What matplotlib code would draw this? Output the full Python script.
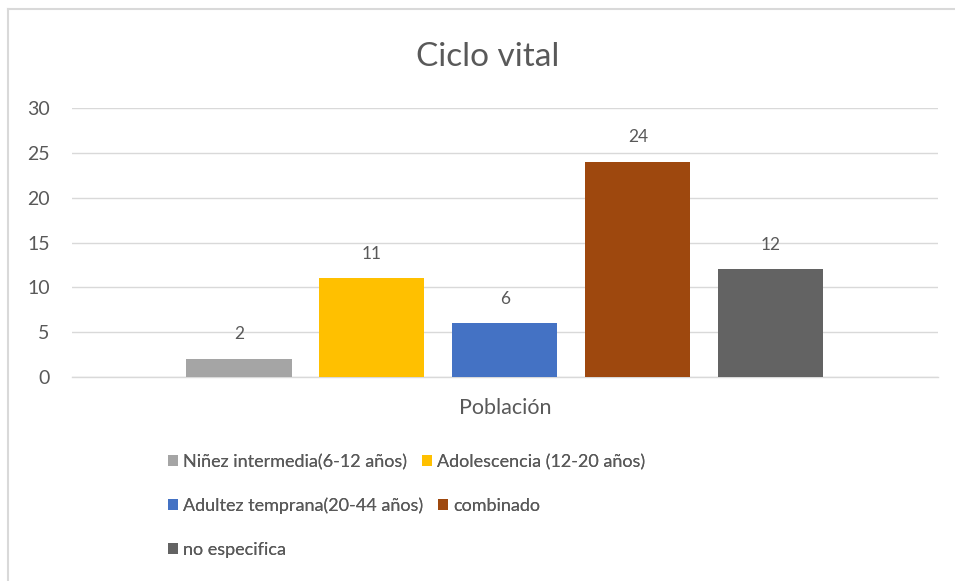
import matplotlib.pyplot as plt
from matplotlib.lines import Line2D

plt.rcParams['font.family'] = ['Lato', 'DejaVu Sans']

categories = ['Niñez intermedia(6-12 años)', 'Adolescencia (12-20 años)',
              'Adultez temprana(20-44 años)', 'combinado', 'no especifica']
values = [2, 11, 6, 24, 12]
colors = ['#A5A5A5', '#FFC000', '#4472C4', '#9E480E', '#636363']
group_label = 'Población'
yticks = [0, 5, 10, 15, 20, 25, 30]

text_color = '#595959'

fig = plt.figure(figsize=(9.55, 5.81), dpi=100)
fig.patch.set_facecolor('white')
ax = fig.add_axes([0.0754, 0.3511, 0.9066, 0.4630])

bars = []
for i, (name, v, c) in enumerate(zip(categories, values, colors)):
    b = ax.bar(i - 2, v, width=0.79, color=c, label=name, zorder=3)
    bars.append(b)
    ax.annotate(str(v), (i - 2, v), xytext=(0, 12), textcoords='offset points',
                ha='center', va='bottom', fontsize=12.5, color=text_color)

ax.set_xlim(-3.256, 3.256)
ax.set_ylim(0, 30)
ax.set_yticks(yticks)
ax.set_xticks([0])
ax.set_xticklabels([group_label])
ax.tick_params(axis='both', length=0, labelcolor=text_color)
ax.tick_params(axis='y', pad=16, labelsize=14)
ax.tick_params(axis='x', pad=15, labelsize=15.5)
ax.grid(axis='y', color='#D9D9D9', linewidth=1, zorder=0)
for s in ['top', 'right', 'left']:
    ax.spines[s].set_visible(False)
ax.spines['bottom'].set_color('#D9D9D9')
ax.spines['bottom'].set_linewidth(1)

fig.text(0.511, 0.902, 'Ciclo vital', ha='center', va='center',
         fontsize=24, color=text_color)

# Excel flows the legend row by row, so one legend per row
rows = [[0, 1], [2, 3], [4]]
row_y = [462, 506, 550]
for idx, y in zip(rows, row_y):
    leg = fig.legend([bars[i] for i in idx], [categories[i] for i in idx],
                     ncol=len(idx), loc='center left',
                     bbox_to_anchor=(168 / 955, 1 - y / 581),
                     frameon=False, fontsize=13, labelcolor=text_color,
                     handlelength=0.55, handleheight=0.55, handletextpad=0.3,
                     columnspacing=0.8, borderpad=0, borderaxespad=0)
    fig.add_artist(leg)

# chart frame (only top and left edge visible in the crop)
fig.add_artist(Line2D([0.0084, 1.0], [0.9845, 0.9845], color='#D9D9D9', lw=1.5))
fig.add_artist(Line2D([0.0084, 0.0084], [0.0, 0.9845], color='#D9D9D9', lw=1.5))

fig.savefig('out.png', dpi=100)
